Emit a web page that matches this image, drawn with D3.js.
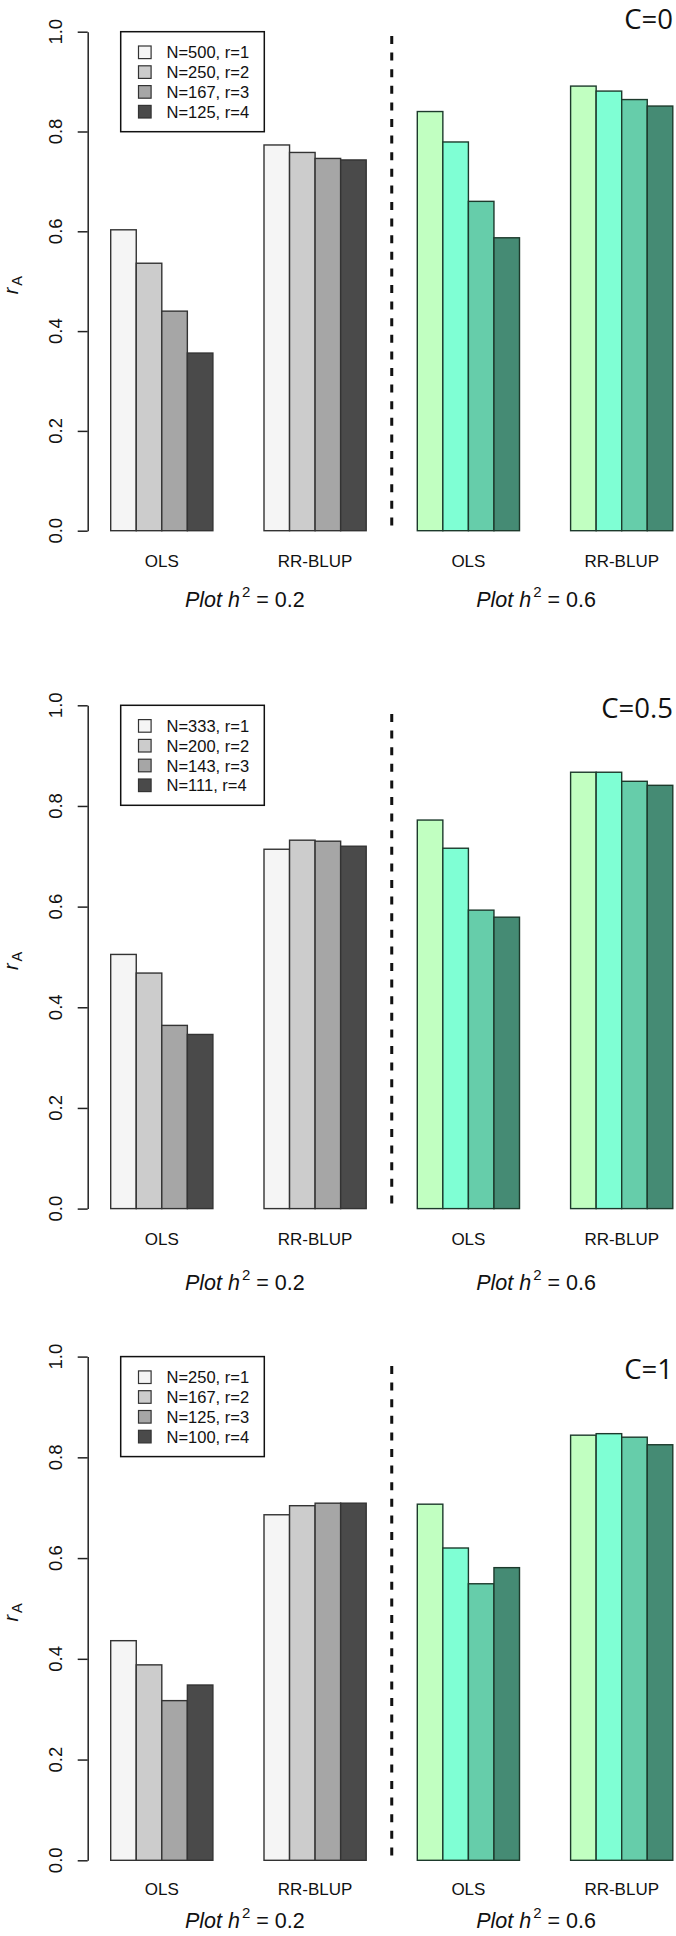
<!DOCTYPE html>
<html>
<head>
<meta charset="utf-8">
<script src="https://cdn.jsdelivr.net/npm/d3@7/dist/d3.min.js"></script>
<style>
  html, body { margin: 0; padding: 0; background: #ffffff; }
  svg { display: block; }
  text { font-family: "Liberation Sans", Arial, Helvetica, sans-serif; fill: #111; }
</style>
</head>
<body>
<svg id="chart" width="676" height="1936"></svg>
<script>
// ---------- data ----------
const methods = ["OLS", "RR-BLUP", "OLS", "RR-BLUP"];
const heritabilityLabels = ["0.2", "0.6"];
const panelTitles = ["C=0", "C=0.5", "C=1"];
const yTicks = [0, 0.2, 0.4, 0.6, 0.8, 1.0];

const legendC0 = ["N=500, r=1", "N=250, r=2", "N=167, r=3", "N=125, r=4"];
const legendC05 = ["N=333, r=1", "N=200, r=2", "N=143, r=3", "N=111, r=4"];
const legendC1 = ["N=250, r=1", "N=167, r=2", "N=125, r=3", "N=100, r=4"];

// rows: OLS h2=0.2, RR-BLUP h2=0.2, OLS h2=0.6, RR-BLUP h2=0.6 ; columns r=1..4
const valuesC0 = [
  [0.603, 0.536, 0.440, 0.356],
  [0.773, 0.758, 0.746, 0.743],
  [0.840, 0.779, 0.660, 0.587],
  [0.891, 0.881, 0.864, 0.851]
];
const valuesC05 = [
  [0.505, 0.468, 0.364, 0.346],
  [0.714, 0.732, 0.730, 0.720],
  [0.772, 0.716, 0.593, 0.579],
  [0.867, 0.867, 0.849, 0.841]
];
const valuesC1 = [
  [0.436, 0.388, 0.317, 0.348],
  [0.686, 0.704, 0.709, 0.709],
  [0.707, 0.620, 0.549, 0.581],
  [0.844, 0.847, 0.840, 0.825]
];

const grayFills = ["#f5f5f5", "#cccccc", "#a6a6a6", "#4a4a4a"];
const greenFills = ["#c1ffc1", "#7fffd4", "#66cdaa", "#458b74"];

// ---------- layout (positions only) ----------
const panels = [
  { title: panelTitles[0], legend: legendC0, values: valuesC0, top: 31.7, bottom: 530.7, titleY: 28.5, dashTop: 36, catDy: 36, plotY: 606.7 },
  { title: panelTitles[1], legend: legendC05, values: valuesC05, top: 705.3, bottom: 1208.6, titleY: 717.5, dashTop: 714, catDy: 36, plotY: 1290 },
  { title: panelTitles[2], legend: legendC1, values: valuesC1, top: 1356.6, bottom: 1860.3, titleY: 1379, dashTop: 1366, catDy: 35, plotY: 1928 }
];

const svg = d3.select("#chart");
svg.append("rect").attr("width", 676).attr("height", 1936).attr("fill", "#fff");

// x scale in barplot units: group g occupies units [2+6g, 6+6g]
const x = d3.scaleLinear().domain([2, 24]).range([110.7, 672.8]);
const axisX = 87.7;

panels.forEach((p) => {
  const y = d3.scaleLinear().domain([0, 1]).range([p.bottom, p.top]);
  const g = svg.append("g");

  // bars
  p.values.forEach((row, gi) => {
    const fills = gi < 2 ? grayFills : greenFills;
    const start = 2 + 6 * gi;
    g.selectAll(null)
      .data(row)
      .enter()
      .append("rect")
      .attr("x", (d, j) => x(start + j))
      .attr("width", x(start + 1) - x(start))
      .attr("y", d => y(d))
      .attr("height", d => y(0) - y(d))
      .attr("fill", (d, j) => fills[j])
      .attr("stroke", gi < 2 ? "#333" : "#1d3a2c")
      .attr("stroke-width", 1.4);

    // category label
    g.append("text")
      .attr("x", x(start + 2))
      .attr("y", p.bottom + p.catDy)
      .attr("text-anchor", "middle")
      .attr("font-size", 17)
      .text(methods[gi]);
  });

  // y axis (line + ticks via d3 axis, labels drawn rotated)
  const yAxis = d3.axisLeft(y)
    .tickValues(yTicks)
    .tickSize(10)
    .tickSizeOuter(0)
    .tickFormat("");
  const ag = g.append("g").attr("transform", `translate(${axisX},0)`).call(yAxis);
  ag.select(".domain").attr("stroke", "#222").attr("stroke-width", 1.5);
  ag.selectAll(".tick line").attr("stroke", "#222").attr("stroke-width", 1.5);
  ag.selectAll(".tick text").remove();

  const fmt = d3.format(".1f");
  const tl = g.selectAll(null)
    .data(yTicks)
    .enter()
    .append("g")
    .attr("transform", d => `translate(${axisX - 25.5},${y(d)}) rotate(-90)`);
  tl.append("text")
    .attr("x", 0).attr("y", 0)
    .attr("text-anchor", "middle")
    .attr("font-size", 18.5)
    .text(d => fmt(d));

  // y label r_A
  const midY = (p.top + p.bottom) / 2;
  const ylg = g.append("g").attr("transform", `translate(18,${midY + 4}) rotate(-90)`);
  const yl = ylg.append("text")
    .attr("x", 0).attr("y", 0)
    .attr("text-anchor", "middle")
    .attr("font-size", 20);
  yl.append("tspan").attr("font-style", "italic").text("r");
  yl.append("tspan").attr("font-size", 14.5).attr("dy", 4).attr("dx", 2).text("A");

  // dashed separator
  g.append("line")
    .attr("x1", x(13)).attr("x2", x(13))
    .attr("y1", p.dashTop).attr("y2", p.bottom)
    .attr("stroke", "#111")
    .attr("stroke-width", 3)
    .attr("stroke-dasharray", "8,8.6");

  // legend
  const lx = 120.7, lw = 143.6, lh = 100;
  g.append("rect")
    .attr("x", lx).attr("y", p.top)
    .attr("width", lw).attr("height", lh)
    .attr("fill", "#fff").attr("stroke", "#111").attr("stroke-width", 1.5);
  p.legend.forEach((lab, i) => {
    const cy = p.top + 20.6 + 19.8 * i;
    g.append("rect")
      .attr("x", 138.5).attr("y", cy - 6.3)
      .attr("width", 12.6).attr("height", 12.6)
      .attr("fill", grayFills[i])
      .attr("stroke", "#333").attr("stroke-width", 1.2);
    g.append("text")
      .attr("x", 166.5).attr("y", cy + 6)
      .attr("font-size", 16.5)
      .text(lab);
  });

  // panel title
  g.append("text")
    .attr("x", 673).attr("y", p.titleY)
    .attr("text-anchor", "end")
    .attr("font-size", 27.5)
    .style("font-family", "'Open Sans', 'Noto Sans', sans-serif")
    .text(p.title);

  // heritability labels
  [7.25, 18.65].forEach((u, k) => {
    const t = g.append("text")
      .attr("x", x(u)).attr("y", p.plotY)
      .attr("text-anchor", "middle")
      .attr("font-size", 21.5);
    t.append("tspan").attr("font-style", "italic").text("Plot h");
    t.append("tspan").attr("font-size", 15).attr("dy", -10).attr("dx", 2).text("2");
    t.append("tspan").attr("dy", 10).text(" = " + heritabilityLabels[k]);
  });
});
</script>
</body>
</html>
